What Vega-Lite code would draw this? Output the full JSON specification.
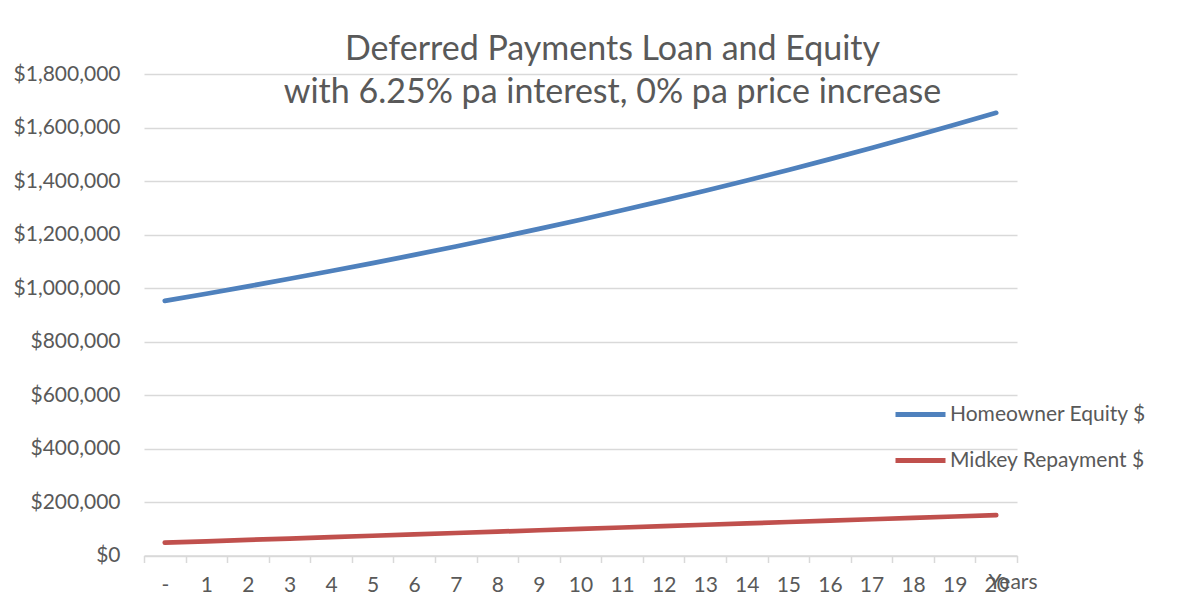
{
  "$schema": "https://vega.github.io/schema/vega-lite/v6.json",
  "autosize": {"type": "none"},
  "width": 873,
  "height": 481.5,
  "padding": {"left": 144, "top": 74, "right": 179, "bottom": 48.5},
  "background": "white",
  "config": {
    "view": {"stroke": null},
    "font": "Lato"
  },
  "title": {
    "text": ["Deferred Payments Loan and Equity", "with 6.25% pa interest, 0% pa price increase"],
    "font": "Lato",
    "fontSize": 34,
    "fontWeight": "normal",
    "color": "#595959",
    "lineHeight": 43,
    "anchor": "middle",
    "frame": "group",
    "baseline": "alphabetic",
    "offset": -74,
    "dx": 32
  },
  "data": {
    "values": [
      {"year": "-", "series": "Homeowner Equity $", "value": 952000},
      {"year": "1", "series": "Homeowner Equity $", "value": 978700},
      {"year": "2", "series": "Homeowner Equity $", "value": 1006100},
      {"year": "3", "series": "Homeowner Equity $", "value": 1034400},
      {"year": "4", "series": "Homeowner Equity $", "value": 1063400},
      {"year": "5", "series": "Homeowner Equity $", "value": 1093200},
      {"year": "6", "series": "Homeowner Equity $", "value": 1123800},
      {"year": "7", "series": "Homeowner Equity $", "value": 1155300},
      {"year": "8", "series": "Homeowner Equity $", "value": 1187700},
      {"year": "9", "series": "Homeowner Equity $", "value": 1221000},
      {"year": "10", "series": "Homeowner Equity $", "value": 1255200},
      {"year": "11", "series": "Homeowner Equity $", "value": 1290400},
      {"year": "12", "series": "Homeowner Equity $", "value": 1326600},
      {"year": "13", "series": "Homeowner Equity $", "value": 1363800},
      {"year": "14", "series": "Homeowner Equity $", "value": 1402000},
      {"year": "15", "series": "Homeowner Equity $", "value": 1441400},
      {"year": "16", "series": "Homeowner Equity $", "value": 1481800},
      {"year": "17", "series": "Homeowner Equity $", "value": 1523300},
      {"year": "18", "series": "Homeowner Equity $", "value": 1566000},
      {"year": "19", "series": "Homeowner Equity $", "value": 1609900},
      {"year": "20", "series": "Homeowner Equity $", "value": 1655000},
      {"year": "-", "series": "Midkey Repayment $", "value": 48000},
      {"year": "1", "series": "Midkey Repayment $", "value": 53150},
      {"year": "2", "series": "Midkey Repayment $", "value": 58300},
      {"year": "3", "series": "Midkey Repayment $", "value": 63450},
      {"year": "4", "series": "Midkey Repayment $", "value": 68600},
      {"year": "5", "series": "Midkey Repayment $", "value": 73750},
      {"year": "6", "series": "Midkey Repayment $", "value": 78900},
      {"year": "7", "series": "Midkey Repayment $", "value": 84050},
      {"year": "8", "series": "Midkey Repayment $", "value": 89200},
      {"year": "9", "series": "Midkey Repayment $", "value": 94350},
      {"year": "10", "series": "Midkey Repayment $", "value": 99500},
      {"year": "11", "series": "Midkey Repayment $", "value": 104650},
      {"year": "12", "series": "Midkey Repayment $", "value": 109800},
      {"year": "13", "series": "Midkey Repayment $", "value": 114950},
      {"year": "14", "series": "Midkey Repayment $", "value": 120100},
      {"year": "15", "series": "Midkey Repayment $", "value": 125250},
      {"year": "16", "series": "Midkey Repayment $", "value": 130400},
      {"year": "17", "series": "Midkey Repayment $", "value": 135550},
      {"year": "18", "series": "Midkey Repayment $", "value": 140700},
      {"year": "19", "series": "Midkey Repayment $", "value": 145850},
      {"year": "20", "series": "Midkey Repayment $", "value": 151000}
    ]
  },
  "mark": {"type": "line", "strokeWidth": 4.7, "strokeCap": "round", "strokeJoin": "round"},
  "encoding": {
    "x": {
      "field": "year",
      "type": "ordinal",
      "sort": ["-", "1", "2", "3", "4", "5", "6", "7", "8", "9", "10", "11", "12", "13", "14", "15", "16", "17", "18", "19", "20"],
      "bandPosition": 0.5,
      "scale": {"type": "band", "paddingInner": 0, "paddingOuter": 0},
      "axis": {
        "title": "Years",
        "titleFont": "Lato",
        "titleFontSize": 21,
        "titleFontWeight": "normal",
        "titleColor": "#595959",
        "titleAlign": "left",
        "titleAnchor": "start",
        "titleBaseline": "alphabetic",
        "titleX": 844,
        "titleY": 32.5,
        "labelAngle": 0,
        "labelFont": "Lato",
        "labelFontSize": 21,
        "labelColor": "#595959",
        "labelPadding": 12,
        "tickBand": "extent",
        "tickSize": 7,
        "tickColor": "#d9d9d9",
        "tickWidth": 1.5,
        "domainColor": "#d9d9d9",
        "domainWidth": 1.5,
        "grid": false
      }
    },
    "y": {
      "field": "value",
      "type": "quantitative",
      "scale": {"domain": [0, 1800000], "nice": false, "zero": true},
      "axis": {
        "title": null,
        "values": [0, 200000, 400000, 600000, 800000, 1000000, 1200000, 1400000, 1600000, 1800000],
        "format": "$,.0f",
        "labelFont": "Lato",
        "labelFontSize": 21,
        "labelColor": "#595959",
        "labelPadding": 24,
        "ticks": false,
        "tickSize": 0,
        "domain": false,
        "grid": true,
        "gridColor": "#d9d9d9",
        "gridWidth": 1.5
      }
    },
    "color": {
      "field": "series",
      "type": "nominal",
      "scale": {"domain": ["Homeowner Equity $", "Midkey Repayment $"], "range": ["#4F81BD", "#C0504D"]},
      "legend": {
        "title": null,
        "orient": "none",
        "legendX": 749,
        "legendY": 313,
        "symbolType": "stroke",
        "symbolSize": 2500,
        "symbolStrokeWidth": 5,
        "labelFont": "Lato",
        "labelFontSize": 21,
        "labelColor": "#595959",
        "labelOffset": 2,
        "labelLimit": 400,
        "rowPadding": 8,
        "padding": 0
      }
    }
  }
}
